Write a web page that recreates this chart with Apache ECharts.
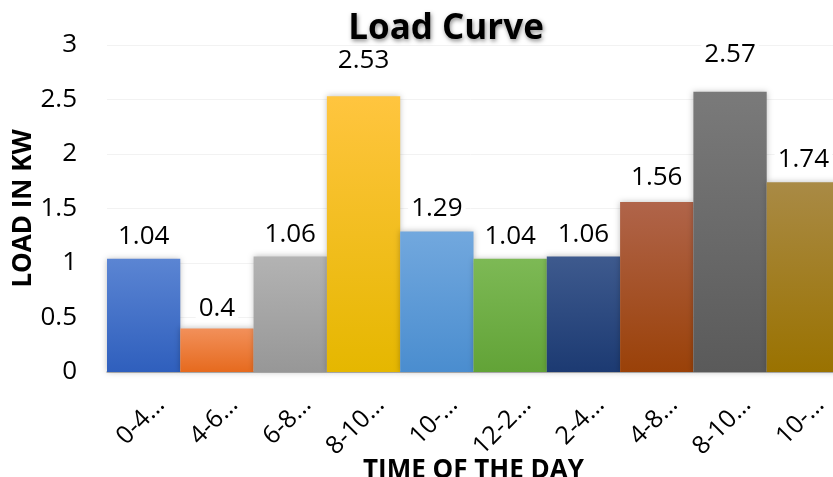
<!DOCTYPE html>
<html>
<head>
<meta charset="utf-8">
<script src="https://cdn.jsdelivr.net/npm/echarts@6/dist/echarts.min.js"></script>
<style>html,body{margin:0;padding:0;background:#fff;}#c{width:833px;height:477px;}</style>
</head>
<body>
<div id="c"></div>
<script>
var categories = ["0-4…", "4-6…", "6-8…", "8-10…", "10-…", "12-2…", "2-4…", "4-8…", "8-10…", "10-…"];
var loadValues = [1.04, 0.4, 1.06, 2.53, 1.29, 1.04, 1.06, 1.56, 2.57, 1.74];
var yTicks = [0, 0.5, 1, 1.5, 2, 2.5, 3];

var barColors = [
  ["#5b85d3", "#2f5fbd"],
  ["#f2905a", "#e66a1e"],
  ["#b3b3b3", "#979797"],
  ["#ffc53f", "#e5b700"],
  ["#72a8de", "#4a8dcf"],
  ["#7db955", "#62a337"],
  ["#3e5a8e", "#1c3a72"],
  ["#b0644a", "#9a4108"],
  ["#7a7a7a", "#5a5a5a"],
  ["#a98a45", "#9a7200"]
];
var labelDist = [9, 7, 9, 23, 10, 9, 9, 11, 24, 10];

var chart = echarts.init(document.getElementById('c'), null, {renderer: 'canvas'});
var FONT = '"Open Sans", sans-serif';

var data = loadValues.map(function (v, i) {
  return {
    value: v,
    itemStyle: {
      color: new echarts.graphic.LinearGradient(0, 0, 0, 1, [
        {offset: 0, color: barColors[i][0]},
        {offset: 1, color: barColors[i][1]}
      ])
    },
    label: {distance: labelDist[i]}
  };
});

chart.setOption({
  animation: false,
  title: {
    text: 'Load Curve',
    left: 441,
    textAlign: 'center',
    top: 7,
    textStyle: {
      fontFamily: FONT, fontWeight: 'bold', fontSize: 35, color: '#000',
      textShadowColor: 'rgba(0,0,0,0.45)', textShadowBlur: 4, textShadowOffsetX: 1, textShadowOffsetY: 2
    }
  },
  grid: {left: 107, right: -7, top: 45, bottom: 105, containLabel: false, outerBoundsMode: 'none'},
  xAxis: {
    type: 'category',
    data: categories,
    axisLine: {lineStyle: {color: '#a6a6a6', width: 1.5}},
    axisTick: {show: false},
    axisLabel: {rotate: 45, fontFamily: FONT, fontSize: 25, color: '#000', margin: 46, padding: [0, -24, 0, 0], interval: 0},
    name: 'TIME OF THE DAY', nameLocation: 'middle', nameGap: 86, nameMoveOverlap: false,
    nameTextStyle: {fontFamily: FONT, fontWeight: 'bold', fontSize: 26, color: '#000'}
  },
  yAxis: {
    type: 'value', min: yTicks[0], max: yTicks[yTicks.length - 1], interval: yTicks[1] - yTicks[0],
    axisLine: {show: false}, axisTick: {show: false},
    splitLine: {lineStyle: {color: '#f2f2f2', width: 1}},
    axisLabel: {fontFamily: FONT, fontSize: 26, color: '#000', margin: 30},
    name: 'LOAD IN KW', nameLocation: 'middle', nameRotate: 90, nameGap: 70, nameMoveOverlap: false,
    nameTextStyle: {fontFamily: FONT, fontWeight: 'bold', fontSize: 26, color: '#000'}
  },
  series: [{
    type: 'bar',
    data: data,
    barCategoryGap: '0%',
    itemStyle: {shadowColor: 'rgba(0,0,0,0.25)', shadowBlur: 6},
    label: {show: true, position: 'top', fontFamily: FONT, fontSize: 26, color: '#000', backgroundColor: '#fff', padding: [0, 3]}
  }]
});
</script>
</body>
</html>
